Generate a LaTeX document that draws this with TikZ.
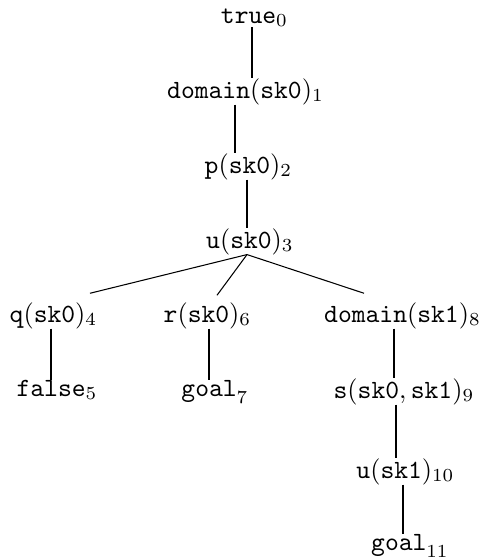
\documentclass[tikz,border=0pt]{standalone}
\usetikzlibrary{calc}
\begin{document}
\begin{tikzpicture}[x=0.38pt,y=-0.38pt,
  lbl/.style={inner sep=0pt,outer sep=0pt,anchor=base},
  link/.style={line width=0.4pt}]
\useasboundingbox (0,0) rectangle (484,559);
% terms of the derivation tree
\node[lbl] (t)   at (254.5,23)  {$\mathtt{true}_0$};
\node[lbl] (d0)  at (245.5,98)  {$\mathtt{domain}(\mathtt{sk0})_1$};
\node[lbl] (p)   at (248.5,173) {$\mathtt{p}(\mathtt{sk0})_2$};
\node[lbl] (u0)  at (250,248)   {$\mathtt{u}(\mathtt{sk0})_3$};
\node[lbl] (q)   at (53.5,322)  {$\mathtt{q}(\mathtt{sk0})_4$};
\node[lbl] (r)   at (207.5,322) {$\mathtt{r}(\mathtt{sk0})_6$};
\node[lbl] (d1)  at (402.5,322) {$\mathtt{domain}(\mathtt{sk1})_8$};
\node[lbl] (f)   at (57,396)    {$\mathtt{false}_5$};
\node[lbl] (g7)  at (215,396)   {$\mathtt{goal}_7$};
\node[lbl] (s)   at (404,398)   {$\mathtt{s}(\mathtt{sk0},\mathtt{sk1})_9$};
\node[lbl] (u1)  at (405.5,478) {$\mathtt{u}(\mathtt{sk1})_{10}$};
\node[lbl] (g11) at (410,550)   {$\mathtt{goal}_{11}$};
% edges
\draw[link] ($(t.south)+(-2.5,0)$)   -- ($(d0.north)+(6.5,0)$);
\draw[link] ($(d0.south)+(-10.5,0)$) -- ($(p.north)+(-13.5,0)$);
\draw[link] ($(p.south)+(-1.5,0)$)   -- ($(u0.north)+(-3,0)$);
\coordinate (fork) at ($(u0.south)+(-3,0)$);
\draw[link] (fork) -- ($(q.north)+(36.5,-9)$);
\draw[link] (fork) -- ($(r.north)+(9.5,-7)$);
\draw[link] (fork) -- ($(d1.north)+(-38.5,-9)$);
\draw[link] ($(q.south)+(-2.5,0)$)   -- ($(f.north)+(-6,0)$);
\draw[link] ($(r.south)+(1.5,0)$)    -- ($(g7.north)+(-6,0)$);
\draw[link] ($(d1.south)+(-8.5,0)$)  -- ($(s.north)+(-10,0)$);
\draw[link] ($(s.south)+(-8,0)$)     -- ($(u1.north)+(-9.5,0)$);
\draw[link] ($(u1.south)+(-2.5,0)$)  -- ($(g11.north)+(-7,0)$);
\end{tikzpicture}
\end{document}
